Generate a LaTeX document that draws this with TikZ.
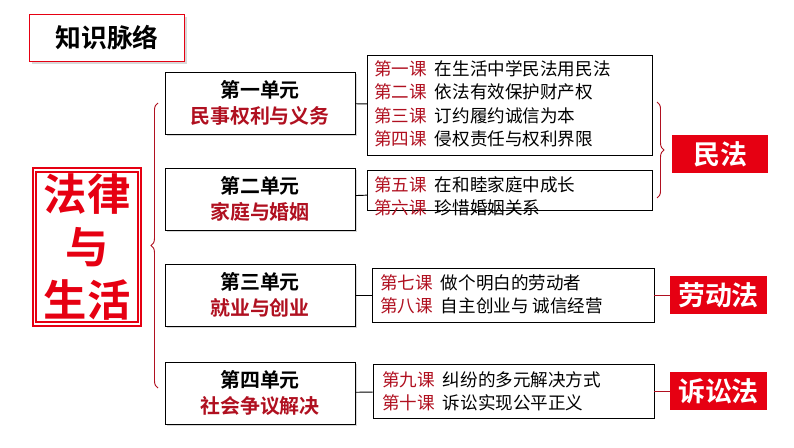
\documentclass[tikz,border=0pt]{standalone}
\usepackage{fontspec}
\setmainfont{Noto Sans CJK SC}
\newfontfamily\cjkbold{Noto Sans CJK SC Bold}
\usetikzlibrary{positioning,shadows,decorations.pathreplacing}
\definecolor{lawred}{HTML}{E60012}
\definecolor{darkred}{HTML}{B01020}
\tikzset{
  unitbox/.style={draw=black, thick, fill=white, minimum width=5.7cm, minimum height=1.86cm,
    align=center, font=\cjkbold\fontsize{17}{22}\selectfont,
    drop shadow={shadow xshift=2pt, shadow yshift=-2pt, fill=gray!60}},
  lessonbox/.style={draw=black, thick, minimum width=8.55cm},
  lessontext/.style={anchor=north west, align=left, inner sep=0pt, font=\fontsize{15}{20}\selectfont},
  lawbox/.style={fill=lawred, text=white, minimum width=2.9cm, minimum height=1.12cm,
    font=\cjkbold\fontsize{23}{24}\selectfont},
  link/.style={thick, draw=black},
  lawlink/.style={thick, draw=darkred},
}
\newcommand{\lk}[1]{\textcolor{darkred}{#1}\hspace{0.45em}}
\begin{document}
\begin{tikzpicture}[x=0.03cm, y=-0.03cm]
\useasboundingbox (0,0) rectangle (794,447);
% title and subject
\node[draw=lawred, very thick, fill=white, minimum width=4.65cm, minimum height=1.4cm,
  font=\cjkbold\fontsize{22}{24}\selectfont,
  drop shadow={shadow xshift=2pt, shadow yshift=-2pt, fill=gray!60}] (title) at (107,38) {知识脉络};
\node[draw=lawred, line width=2pt, double=white, double distance=1pt, fill=white,
  minimum width=3.15cm, minimum height=4.5cm, align=center, text=lawred,
  font=\cjkbold\fontsize{37}{45}\selectfont] (subject) at (87,247) {法律\\与\\生活};
% units
\node[unitbox] (U1) at (260,103) {第一单元\\\textcolor{darkred}{民事权利与义务}};
\node[unitbox] (U2) at (260,199) {第二单元\\\textcolor{darkred}{家庭与婚姻}};
\node[unitbox] (U3) at (260,295) {第三单元\\\textcolor{darkred}{就业与创业}};
\node[unitbox] (U4) at (260,393) {第四单元\\\textcolor{darkred}{社会争议解决}};
% lessons
\node[lessonbox, minimum height=3cm] (L1) at (510,105) {};
\node[lessonbox, minimum height=1.2cm] (L2) at (510,190) {};
\node[lessonbox, minimum height=1.62cm, minimum width=8.46cm] (L3) at (513,295) {};
\node[lessonbox, minimum height=1.62cm, minimum width=8.43cm] (L4) at (513.5,391) {};
\node[lessontext] (T1) at (374,60) {\lk{第一课}在生活中学民法用民法\\\lk{第二课}依法有效保护财产权\\\lk{第三课}订约履约诚信为本\\\lk{第四课}侵权责任与权利界限};
\node[lessontext] (T2) at (374,176) {\lk{第五课}在和睦家庭中成长\\\lk{第六课}珍惜婚姻关系};
\node[lessontext] (T3) at (380,274) {\lk{第七课}做个明白的劳动者\\\lk{第八课}自主创业与\ 诚信经营};
\node[lessontext] (T4) at (382,371) {\lk{第九课}纠纷的多元解决方式\\\lk{第十课}诉讼实现公平正义};
% laws
\node[lawbox] (civil) at (720,154) {民法};
\node[lawbox] (labour) at (718.5,295) {劳动法};
\node[lawbox] (lawsuit) at (718.5,391) {诉讼法};
% connectors
\draw[link] (U1) -- (L1);
\draw[link] (U2) -- (L2);
\draw[link] (U3) -- (L3);
\draw[link] (U4) -- (L4);
\draw[lawlink] (L3) -- (labour);
\draw[lawlink] (L4) -- (lawsuit);
\coordinate (bl1) at (158,388);
\coordinate (bl2) at (158,103);
\draw[lawlink, decorate, decoration={brace, amplitude=6pt}] (bl1) -- (bl2);
\coordinate (br1) at (657,102);
\coordinate (br2) at (657,198);
\draw[lawlink, decorate, decoration={brace, amplitude=6pt}] (br1) -- (br2);
\end{tikzpicture}
\end{document}
